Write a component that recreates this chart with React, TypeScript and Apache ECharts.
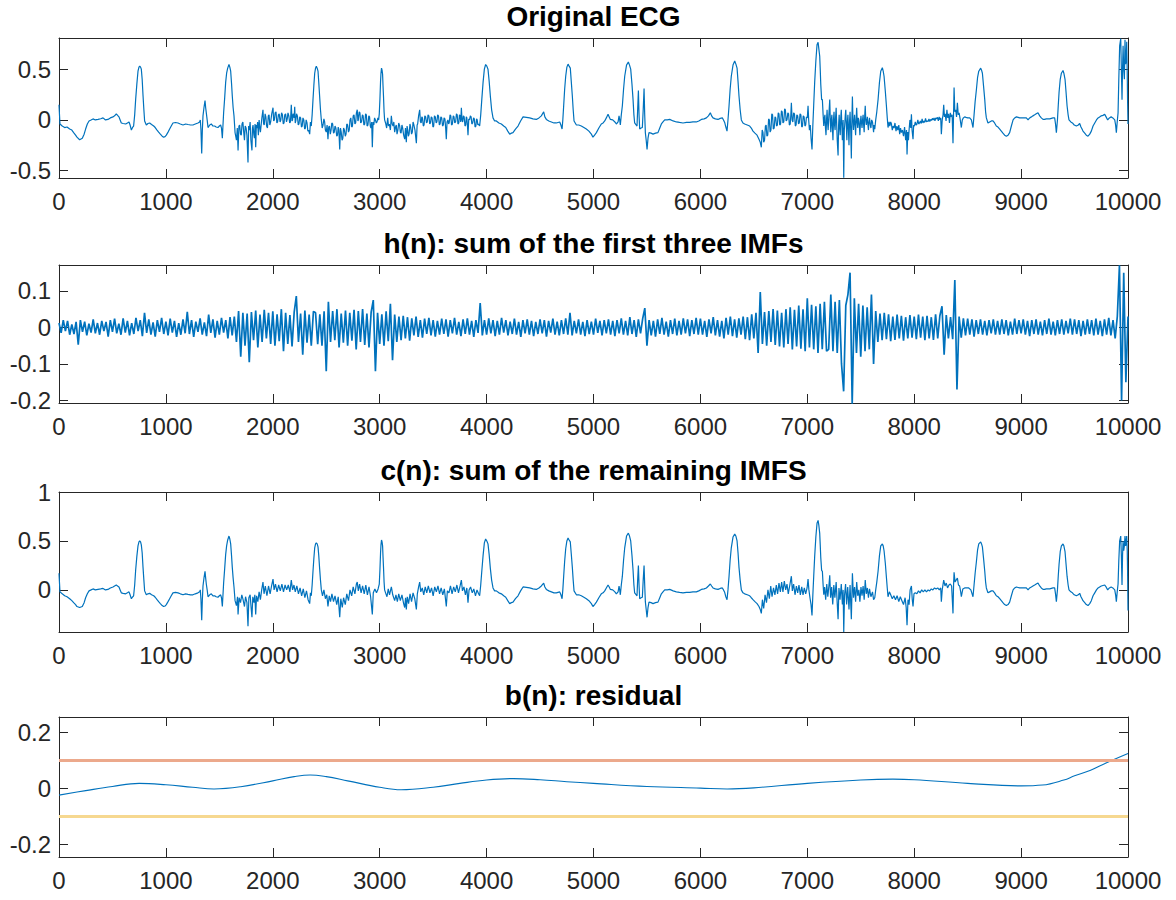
import React, { useEffect, useRef } from "react";
import * as echarts from "echarts";

// ---------- data ----------
const TITLES = [
  "Original ECG",
  "h(n): sum of the first three IMFs",
  "c(n): sum of the remaining IMFS",
  "b(n): residual",
];

const X_MIN = 0;
const X_MAX = 10000;
const X_INTERVAL = 1000;

const Y_TICKS_ECG = [-0.5, 0, 0.5];
const Y_TICKS_H = [-0.2, -0.1, 0, 0.1];
const Y_TICKS_C = [0, 0.5, 1];
const Y_TICKS_B = [-0.2, 0, 0.2];

const Y_RANGE_ECG = [-0.572, 0.807];
const Y_RANGE_H = [-0.207, 0.171];
const Y_RANGE_C = [-0.43, 1];
const Y_RANGE_B = [-0.245, 0.255];

const THRESHOLD_UPPER = 0.1;
const THRESHOLD_LOWER = -0.1;

const ecgPoints: [number, number][] = [
  [0,0.15],[9,-0.04],[30,-0.06],[53,-0.075],[75,-0.07],[100,-0.09],[120,-0.1],[137,-0.125],[155,-0.15],[168,-0.17],[193,-0.195],[218,-0.18],[235,-0.14],[249,-0.09],[265,-0.04],[281,-0.01],[300,0.0],[318,0.01],[340,0.0],[365,0.005],[390,0.012],[412,0.02],[435,0.0],[458,0.005],[480,0.02],[505,0.03],[520,0.04],[536,0.06],[548,0.045],[561,0.03],[572,0.0],[583,-0.03],[600,-0.035],[624,-0.04],[640,-0.03],[655,-0.02],[665,-0.05],[677,-0.1],[690,-0.07],[698,-0.06],
  [708,0.05],[717,0.2],[728,0.35],[739,0.48],[748,0.52],[755,0.53],[763,0.52],[770,0.5],[778,0.4],[786,0.24],[794,0.1],[801,-0.01],[817,-0.05],[832,-0.035],[848,-0.03],[866,-0.045],[886,-0.06],[900,-0.075],[917,-0.1],[932,-0.12],[948,-0.14],[965,-0.16],[979,-0.17],[992,-0.165],[1004,-0.15],[1020,-0.12],[1035,-0.09],[1050,-0.06],[1066,-0.03],[1090,-0.025],[1113,-0.03],[1135,-0.04],[1160,-0.05],[1185,-0.04],[1207,-0.045],[1230,-0.05],[1253,-0.05],[1275,-0.04],[1300,-0.03],[1315,-0.02],
  [1322,0.0],[1328,-0.1],[1335,-0.33],[1341,-0.1],[1347,0.04],[1356,0.12],[1366,0.19],[1372,0.12],[1378,0.07],[1386,0.0],[1394,-0.075],[1410,-0.05],[1425,-0.04],[1440,-0.06],[1456,-0.06],[1470,-0.07],[1487,-0.075],[1500,-0.06],[1512,-0.05],[1520,-0.08],[1528,-0.18],[1534,-0.05],[1540,0.07],[1550,0.22],[1559,0.37],[1568,0.46],[1578,0.51],[1590,0.546],[1598,0.52],[1606,0.48],[1614,0.36],[1621,0.235],[1629,0.12],[1637,0.04],[1647,-0.125],
  [1660,-0.2],[1668,-0.08],[1675,-0.3],[1683,-0.06],[1690,-0.05],[1698,-0.14],[1705,-0.15],[1712,-0.04],[1720,-0.02],[1728,-0.12],[1735,-0.2],[1742,-0.06],[1750,-0.08],[1758,-0.15],[1768,-0.42],[1774,-0.06],[1780,-0.1],[1788,-0.02],[1795,-0.2],[1805,-0.3],[1810,-0.08],[1815,-0.05],[1822,-0.14],[1828,-0.18],[1834,-0.04],[1840,-0.27],[1846,-0.05],[1852,-0.08],[1858,-0.02],[1865,-0.15],[1872,0.0],[1877,-0.06],[1884,-0.12],[1890,-0.12],[1898,0.02],[1908,0.1],[1914,-0.04],[1920,-0.05],[1928,0.06],[1935,0.03],[1942,-0.06],[1950,-0.08],[1958,0.04],[1965,0.05],[1972,-0.05],[1980,-0.02],[1990,0.06],[2002,0.12],[2008,-0.01],[2015,0.0],[2022,0.07],[2030,0.08],[2038,-0.03],[2045,-0.02],[2052,0.05],[2060,0.06],[2068,-0.02],[2075,0.0],[2082,0.07],[2090,0.05],[2098,-0.04],[2105,-0.03],[2112,0.05],[2120,0.06],[2128,-0.02],[2135,0.01],[2142,0.07],[2150,0.04],[2158,-0.03],[2165,-0.02],[2173,0.15],[2180,-0.01],[2185,0.0],[2190,0.06],[2195,0.05],[2200,0.02],[2205,0.13],[2210,-0.03],[2215,-0.01],[2222,0.06],[2230,0.04],[2238,-0.05],[2245,-0.04],[2252,0.03],[2260,0.02],[2268,-0.07],[2275,-0.06],[2282,0.02],[2290,0.0],[2298,-0.09],[2305,-0.08],[2312,0.0],[2320,-0.03],[2328,-0.11],[2335,-0.1],[2345,-0.14],[2352,-0.02],[2360,-0.06],
  [2368,0.05],[2376,0.2],[2384,0.34],[2392,0.46],[2400,0.51],[2407,0.53],[2415,0.51],[2423,0.48],[2430,0.37],[2438,0.235],[2446,0.1],[2454,0.0],
  [2462,-0.08],[2470,-0.05],[2478,0.01],[2485,-0.02],[2492,-0.1],[2500,-0.12],[2508,-0.05],[2516,-0.19],[2523,-0.07],[2530,-0.06],[2538,-0.14],[2545,-0.1],[2552,-0.03],[2560,-0.04],[2568,-0.13],[2575,-0.12],[2582,-0.06],[2590,-0.08],[2598,-0.16],[2605,-0.15],[2612,-0.07],[2618,-0.1],[2626,-0.29],[2633,-0.08],[2640,-0.12],[2648,-0.2],[2655,-0.18],[2662,-0.08],[2670,-0.1],[2678,-0.16],[2685,-0.14],[2692,-0.04],[2700,-0.05],[2708,-0.12],[2715,-0.1],[2722,0.0],[2730,0.02],[2738,-0.07],[2745,-0.06],[2752,0.04],[2760,0.05],[2768,-0.04],[2775,-0.03],[2782,0.07],[2790,0.1],[2796,-0.01],[2800,0.0],[2808,0.08],[2815,0.07],[2822,-0.03],[2830,-0.02],[2838,0.05],[2845,0.04],[2852,-0.05],[2860,-0.04],[2868,0.06],[2875,0.05],[2882,-0.06],[2890,-0.05],[2898,0.04],[2905,0.03],[2912,-0.06],[2918,-0.08],[2925,-0.02],[2931,-0.27],[2938,-0.02],[2945,-0.05],[2952,0.02],[2960,0.0],[2968,-0.03],[2975,-0.02],[2983,0.02],[2990,0.0],
  [2996,0.06],[3002,0.2],[3008,0.38],[3012,0.46],[3017,0.51],[3022,0.49],[3027,0.45],[3031,0.34],[3036,0.22],[3041,0.08],[3046,0.0],[3055,-0.03],
  [3065,-0.08],[3075,0.02],[3082,-0.06],[3090,-0.04],[3100,-0.1],[3109,0.04],[3117,-0.04],[3125,-0.06],[3132,-0.02],[3140,-0.12],[3148,-0.07],[3155,-0.05],[3162,-0.14],[3170,-0.1],[3178,-0.03],[3187,-0.06],[3193,-0.12],[3200,-0.13],[3208,-0.05],[3215,-0.08],[3224,-0.15],[3234,-0.19],[3241,-0.08],[3249,-0.22],[3256,-0.06],[3262,-0.1],[3268,-0.16],[3275,-0.14],[3283,-0.04],[3290,-0.07],[3298,-0.14],[3305,-0.12],[3312,-0.02],[3320,-0.05],[3330,-0.1],[3343,-0.23],[3350,-0.05],[3355,-0.04],[3364,0.04],[3374,0.1],[3381,-0.02],[3388,-0.03],[3394,0.03],[3400,0.02],[3408,-0.06],[3415,-0.05],[3422,0.04],[3430,0.03],[3438,-0.03],[3445,-0.02],[3452,0.05],[3460,0.04],[3468,-0.04],[3475,-0.03],[3482,0.03],[3490,0.02],[3498,-0.07],[3505,-0.06],[3512,0.04],[3520,0.03],[3528,-0.03],[3535,-0.02],[3542,0.05],[3550,0.04],[3558,-0.05],[3565,-0.04],[3572,0.03],[3580,0.02],[3588,-0.06],[3595,-0.05],[3602,0.02],[3610,0.01],[3617,-0.08],[3623,-0.19],[3630,-0.02],[3638,0.0],[3644,-0.04],[3650,-0.03],[3658,0.05],[3665,0.04],[3672,-0.05],[3680,-0.04],[3688,0.04],[3695,0.03],[3702,-0.03],[3710,-0.02],[3718,0.06],[3725,0.05],[3732,-0.04],[3740,-0.03],[3746,0.05],[3752,0.04],[3758,-0.02],[3764,0.12],[3770,0.0],[3776,-0.02],[3783,0.04],[3790,0.03],[3798,-0.06],[3805,-0.05],[3810,0.03],[3815,0.02],[3820,-0.04],[3826,-0.15],[3833,0.01],[3840,0.0],[3848,0.04],[3855,0.03],[3862,-0.04],[3870,-0.03],[3878,0.02],[3885,0.01],[3892,-0.07],[3900,-0.06],[3906,0.01],[3912,0.0],[3918,-0.05],[3925,-0.04],[3935,-0.06],
  [3945,0.05],[3955,0.2],[3967,0.37],[3979,0.5],[3991,0.546],[4002,0.53],[4013,0.5],[4024,0.38],[4035,0.235],[4047,0.1],[4060,0.02],[4075,-0.01],[4091,-0.01],[4115,-0.03],[4138,-0.04],[4160,-0.06],[4179,-0.075],[4198,-0.11],[4216,-0.14],[4232,-0.13],[4247,-0.125],[4270,-0.09],[4294,-0.06],[4318,-0.01],[4341,0.03],[4372,0.025],[4403,0.02],[4434,0.01],[4465,0.005],[4490,0.02],[4512,0.04],[4534,0.08],[4545,0.03],[4559,0.005],[4582,-0.01],[4606,-0.02],[4630,-0.03],[4652,-0.03],[4684,-0.02],[4695,-0.05],[4706,-0.09],
  [4713,0.0],[4721,0.14],[4730,0.3],[4740,0.43],[4751,0.52],[4762,0.55],[4772,0.53],[4783,0.51],[4792,0.38],[4802,0.235],[4810,0.1],[4818,-0.01],[4840,-0.05],[4862,-0.05],[4886,-0.06],[4910,-0.075],[4933,-0.09],[4957,-0.11],[4980,-0.14],[4995,-0.17],[5010,-0.15],[5027,-0.125],[5050,-0.08],[5073,-0.04],[5090,-0.03],[5105,-0.01],[5120,0.02],[5136,0.055],[5147,0.03],[5158,0.005],[5180,0.0],[5200,-0.02],[5214,-0.04],[5230,-0.02],[5239,0.04],[5245,0.0],[5251,-0.05],
  [5260,0.05],[5270,0.14],[5281,0.3],[5292,0.43],[5309,0.54],[5326,0.57],[5337,0.54],[5348,0.5],[5360,0.35],[5370,0.2],[5378,0.05],[5385,-0.03],[5400,-0.05],[5407,-0.06],[5413,0.1],[5420,0.29],[5426,0.05],[5432,-0.09],[5445,-0.08],[5457,-0.075],[5465,0.1],[5473,0.31],[5479,0.05],[5485,-0.125],[5493,-0.2],[5501,-0.29],[5510,-0.18],[5519,-0.125],[5538,-0.13],[5557,-0.14],[5580,-0.13],[5603,-0.125],[5620,-0.08],[5635,-0.04],[5650,-0.02],[5666,0.0],[5690,0.0],[5713,0.005],[5745,-0.01],[5775,-0.02],[5805,-0.025],[5837,-0.03],[5870,-0.025],[5900,-0.025],[5930,-0.02],[5962,-0.02],[5985,-0.01],[6009,0.005],[6035,0.01],[6056,0.02],[6075,0.04],[6093,0.07],[6105,0.04],[6118,0.02],[6140,0.01],[6165,0.005],[6185,0.015],[6205,0.02],[6216,0.0],[6227,-0.025],[6238,-0.07],[6249,-0.11],
  [6258,0.0],[6268,0.14],[6278,0.3],[6289,0.43],[6305,0.54],[6321,0.58],[6332,0.55],[6343,0.51],[6352,0.38],[6361,0.235],[6372,0.1],[6383,0.0],[6398,-0.03],[6414,-0.04],[6438,-0.05],[6461,-0.06],[6476,-0.08],[6492,-0.11],[6510,-0.13],[6530,-0.15],[6548,-0.19],[6560,-0.22],[6570,-0.27],
  [6578,-0.1],[6585,-0.12],[6592,-0.22],[6600,-0.2],[6608,-0.06],[6615,-0.05],[6622,-0.16],[6630,-0.15],[6638,0.01],[6645,0.0],[6652,-0.12],[6660,-0.1],[6668,0.06],[6675,0.05],[6682,-0.09],[6690,-0.08],[6698,0.03],[6705,0.02],[6712,-0.06],[6720,-0.05],[6728,0.07],[6735,0.06],[6742,-0.05],[6750,-0.04],[6758,0.09],[6765,0.08],[6772,-0.03],[6780,-0.02],[6788,0.11],[6795,0.1],[6802,-0.01],[6810,0.0],[6818,0.07],[6825,0.06],[6832,-0.05],[6840,-0.04],[6846,0.05],[6851,0.17],[6858,0.0],[6865,-0.02],[6872,0.07],[6880,0.06],[6888,-0.06],[6895,-0.05],[6902,0.05],[6910,0.04],[6918,-0.04],[6925,-0.03],[6932,0.06],[6940,0.05],[6948,-0.07],[6955,-0.06],[6962,0.04],[6970,0.03],[6978,-0.06],[6985,-0.05],[6992,0.03],[7000,0.02],[7007,0.14],[7013,0.0],[7020,-0.1],[7028,-0.05],[7035,-0.18],[7044,-0.29],[7052,-0.05],[7060,0.15],
  [7069,0.37],[7080,0.58],[7091,0.74],[7101,0.765],[7108,0.7],[7116,0.63],[7121,0.5],[7126,0.35],[7134,0.2],[7141,0.2],[7148,0.05],[7154,-0.06],
  [7160,0.02],[7165,0.05],[7170,-0.08],[7175,-0.15],[7180,0.0],[7185,0.1],[7190,-0.03],[7195,-0.1],[7202,0.05],[7210,0.2],[7215,0.0],[7220,-0.12],[7225,0.0],[7230,0.05],[7235,-0.08],[7240,-0.2],[7245,0.0],[7250,0.08],[7255,-0.05],[7260,-0.1],[7265,0.03],[7270,0.12],[7275,-0.05],[7280,-0.2],[7288,-0.35],[7293,-0.05],[7298,0.05],[7303,-0.08],[7308,-0.15],[7313,0.02],[7318,0.1],[7323,-0.05],[7328,-0.2],[7335,0.0],[7341,-0.57],[7346,-0.1],[7350,-0.05],[7355,0.04],[7360,0.1],[7365,-0.05],[7370,-0.2],[7375,-0.02],[7380,0.05],[7385,-0.1],[7390,-0.25],[7395,-0.02],[7400,0.08],[7406,-0.1],[7412,-0.38],[7417,0.0],[7422,0.23],[7427,0.0],[7432,-0.1],[7437,-0.02],[7442,0.05],[7447,-0.05],[7452,-0.15],[7457,0.0],[7462,0.12],[7467,-0.02],[7472,-0.08],[7477,0.02],[7482,0.0],[7487,-0.06],[7492,-0.15],[7497,-0.02],[7502,0.04],[7507,-0.03],[7512,-0.08],[7517,0.0],[7522,0.05],[7527,-0.05],[7532,-0.12],[7537,0.04],[7542,0.14],[7547,0.0],[7552,-0.05],[7557,-0.01],[7562,0.03],[7567,-0.05],[7572,-0.1],[7577,-0.02],[7582,0.02],[7588,-0.04],[7595,-0.08],[7602,0.0],[7610,-0.02],[7615,-0.07],[7620,-0.12],[7625,-0.05],[7631,-0.09],
  [7640,0.0],[7650,0.08],[7662,0.2],[7675,0.37],[7687,0.48],[7702,0.514],[7710,0.48],[7718,0.43],[7730,0.28],[7740,0.14],[7748,0.02],[7755,-0.075],[7765,-0.02],[7772,-0.06],[7780,-0.02],[7787,-0.04],[7795,-0.1],[7803,-0.06],[7812,-0.08],[7820,-0.03],[7830,-0.11],[7838,-0.06],[7847,-0.1],[7856,-0.05],[7864,-0.14],[7872,-0.08],[7880,-0.125],[7890,-0.1],[7900,-0.16],[7910,-0.07],[7920,-0.2],[7928,-0.1],[7933,-0.34],[7940,-0.12],[7946,-0.2],[7952,-0.1],[7960,0.0],[7968,-0.08],[7974,0.055],[7980,-0.1],[7989,-0.19],[7995,-0.05],[8002,-0.06],[8010,-0.02],[8018,-0.05],[8026,-0.04],[8034,0.0],[8042,-0.04],[8050,-0.03],[8058,-0.01],[8066,-0.035],[8074,0.01],[8082,-0.03],[8090,-0.01],[8098,-0.025],[8106,0.015],[8114,-0.02],[8122,-0.01],[8130,-0.015],[8138,0.01],[8146,-0.015],[8154,0.005],[8162,-0.005],[8170,0.015],[8178,0.0],[8186,0.02],[8194,-0.01],[8202,0.02],[8210,0.01],[8218,0.025],[8226,-0.01],[8234,0.03],[8242,0.0],[8248,0.02],[8254,-0.14],[8262,0.0],[8270,0.05],[8276,0.15],[8283,0.03],[8290,0.06],[8298,-0.01],[8306,0.1],[8314,0.02],[8322,0.06],[8330,-0.03],[8338,0.07],[8346,0.03],[8355,0.05],[8363,-0.23],[8368,0.05],[8373,0.32],[8380,0.08],[8388,0.1],[8396,0.03],[8404,0.17],[8412,0.05],[8420,0.07],[8428,0.02],[8435,-0.03],[8441,-0.075],[8450,0.0],[8460,0.02],[8472,0.03],[8485,0.025],[8500,0.02],[8519,0.02],[8535,0.0],[8550,-0.075],
  [8560,0.05],[8570,0.18],[8582,0.3],[8593,0.42],[8604,0.48],[8622,0.51],[8630,0.49],[8638,0.46],[8649,0.33],[8660,0.2],[8668,0.08],[8675,0.02],[8690,-0.03],[8706,-0.02],[8722,-0.01],[8737,-0.01],[8752,-0.03],[8768,-0.06],[8784,-0.07],[8800,-0.09],[8815,-0.11],[8830,-0.13],[8846,-0.15],[8862,-0.16],[8878,-0.15],[8893,-0.125],[8909,-0.06],[8925,0.0],[8940,0.02],[8956,0.03],[8972,0.025],[8987,0.02],[9003,0.02],[9018,0.02],[9034,0.02],[9049,0.02],[9065,0.0],[9080,0.02],[9096,0.03],[9111,0.04],[9127,0.05],[9142,0.06],[9158,0.07],[9174,0.04],[9189,0.02],[9205,0.005],[9220,0.005],[9236,0.01],[9252,0.01],[9268,0.01],[9283,0.015],[9299,0.02],[9314,0.02],[9322,-0.04],[9330,-0.125],
  [9340,0.0],[9348,0.15],[9355,0.27],[9366,0.4],[9377,0.46],[9392,0.487],[9400,0.46],[9411,0.4],[9420,0.28],[9430,0.14],[9440,0.05],[9448,0.0],[9465,-0.02],[9480,-0.03],[9497,-0.05],[9517,-0.06],[9535,-0.05],[9548,-0.035],[9560,-0.07],[9570,-0.09],[9579,-0.11],[9595,-0.13],[9610,-0.15],[9626,-0.16],[9642,-0.14],[9657,-0.11],[9673,-0.06],[9689,-0.03],[9705,0.0],[9720,0.02],[9735,0.03],[9750,0.04],[9766,0.045],[9782,0.055],[9795,0.03],[9810,0.0],[9826,0.02],[9842,0.03],[9858,0.02],[9876,0.0],[9884,-0.05],[9891,-0.125],[9899,-0.02],[9907,0.07],[9914,0.4],[9922,0.73],[9932,0.8],[9938,0.5],[9944,0.2],[9949,0.5],[9954,0.73],[9960,0.5],[9966,0.4],[9972,0.79],[9978,0.55],[9984,0.6],[9988,0.77],[9993,0.45],[9996,0.2],[10000,-0.04],
];

// h(n) read every 20 samples
const H_STEP = 20;
const hValues: number[] = [
  0.012,-0.015,0.02,-0.01,0.018,-0.02,0.008,-0.018,0.015,-0.047,0.02,-0.012,0.016,-0.022,0.01,-0.014,0.022,-0.016,0.012,-0.02,
  0.018,-0.01,0.015,-0.025,0.02,-0.012,0.024,-0.016,0.01,-0.02,0.025,-0.014,0.018,-0.022,0.012,-0.018,0.026,-0.01,0.02,-0.024,
  0.04,-0.015,0.022,-0.02,0.014,-0.025,0.02,-0.012,0.026,-0.018,0.016,-0.022,0.024,-0.014,0.018,-0.026,0.012,-0.02,0.022,-0.016,
  0.043,-0.018,0.02,-0.026,0.016,-0.012,0.025,-0.02,0.014,-0.024,0.035,-0.015,0.022,-0.028,0.018,-0.02,0.026,-0.014,0.02,-0.03,
  0.028,-0.022,0.03,-0.04,0.045,-0.08,0.04,-0.05,0.038,-0.095,0.042,-0.035,0.046,-0.055,0.035,-0.04,0.048,-0.03,0.04,-0.045,
  0.044,-0.05,0.036,-0.038,0.05,-0.065,0.04,-0.045,0.034,-0.052,0.042,0.086,-0.04,0.038,-0.075,0.046,-0.042,0.035,-0.05,0.044,
  0.04,-0.046,0.036,-0.05,0.044,-0.12,0.07,-0.04,0.045,-0.035,0.05,-0.055,0.038,-0.042,0.046,-0.05,0.04,-0.036,0.048,-0.06,
  0.045,-0.04,0.05,-0.048,0.038,-0.055,0.042,0.075,-0.12,0.04,-0.045,0.036,-0.05,0.044,-0.038,0.065,-0.09,0.035,-0.04,0.03,
  -0.035,0.032,-0.03,0.028,-0.036,0.025,-0.022,0.03,-0.026,0.02,-0.028,0.024,-0.018,0.026,-0.022,0.02,-0.025,0.018,-0.02,0.024,
  -0.018,0.022,-0.025,0.02,-0.016,0.026,-0.02,0.015,-0.024,0.022,-0.018,0.025,-0.02,0.018,-0.026,0.02,-0.015,0.067,-0.022,0.02,
  -0.02,0.025,-0.016,0.02,-0.024,0.018,-0.02,0.026,-0.014,0.02,-0.022,0.016,-0.018,0.024,-0.02,0.015,-0.026,0.02,-0.016,0.022,
  -0.02,0.018,-0.024,0.015,-0.018,0.022,-0.016,0.02,-0.025,0.018,-0.014,0.024,-0.02,0.016,-0.022,0.02,-0.018,0.025,-0.02,0.04,
  -0.022,0.018,-0.016,0.022,-0.02,0.015,-0.024,0.02,-0.018,0.016,-0.02,0.024,-0.015,0.018,-0.022,0.02,-0.016,0.022,-0.02,0.018,
  -0.024,0.02,-0.016,0.025,-0.02,0.018,-0.022,0.028,-0.018,0.02,-0.026,0.022,-0.016,0.024,0.053,-0.05,0.02,-0.022,0.018,-0.025,
  0.022,-0.018,0.026,-0.02,0.016,-0.025,0.02,-0.018,0.024,-0.022,0.018,-0.02,0.025,-0.016,0.022,-0.024,0.02,-0.018,0.026,-0.02,
  0.024,-0.02,0.018,-0.026,0.022,-0.016,0.028,-0.022,0.02,-0.025,0.018,-0.03,0.026,-0.02,0.03,-0.024,0.022,-0.028,0.025,-0.02,
  0.03,-0.032,0.028,-0.035,0.036,-0.03,0.04,-0.07,0.097,-0.045,0.042,-0.05,0.045,-0.04,0.05,-0.048,0.046,-0.052,0.04,-0.055,
  0.05,-0.045,0.055,-0.06,0.048,-0.052,0.06,-0.058,0.05,-0.065,0.08,-0.055,0.062,-0.06,0.058,-0.07,0.065,-0.06,0.07,-0.065,
  -0.06,0.09,-0.065,0.07,-0.07,0.075,-0.1,-0.175,0.06,0.09,0.15,-0.21,0.08,-0.07,0.065,-0.08,0.06,-0.065,0.055,-0.06,
  0.09,-0.1,0.045,-0.04,0.038,-0.035,0.04,-0.032,0.036,-0.038,0.03,-0.034,0.035,-0.03,0.032,-0.036,0.028,-0.03,0.034,-0.028,
  0.03,-0.032,0.035,-0.028,0.03,-0.035,0.032,-0.03,0.028,-0.034,0.036,-0.03,0.032,0.058,-0.075,0.034,-0.03,0.028,-0.032,0.13,
  -0.17,0.03,-0.028,0.025,-0.022,0.024,-0.02,0.022,-0.025,0.02,-0.018,0.022,-0.02,0.018,-0.022,0.02,-0.016,0.022,-0.02,0.018,
  -0.02,0.022,-0.018,0.02,-0.022,0.016,-0.02,0.024,-0.018,0.02,-0.016,0.022,-0.02,0.018,-0.024,0.02,-0.018,0.022,-0.02,0.016,
  -0.022,0.02,-0.018,0.024,-0.02,0.016,-0.022,0.02,-0.018,0.022,-0.02,0.018,-0.016,0.024,-0.02,0.022,-0.018,0.02,-0.024,0.018,
  -0.02,0.022,-0.018,0.02,-0.022,0.024,-0.02,0.018,-0.024,0.022,-0.02,0.026,-0.022,0.02,-0.03,0.03,0.17,-0.2,0.15,-0.15,
  0.03,
];

const cPoints: [number, number][] = [
  [0,0.17],[9,-0.02],[30,-0.04],[53,-0.06],[75,-0.07],[100,-0.09],[120,-0.11],[137,-0.13],[155,-0.15],[168,-0.17],[193,-0.18],[218,-0.17],[235,-0.13],[249,-0.08],[265,-0.04],[281,-0.01],[300,0.0],[318,0.01],[340,0.0],[365,0.005],[390,0.01],[412,0.015],[435,0.0],[458,0.005],[480,0.02],[505,0.03],[520,0.04],[536,0.05],[548,0.04],[561,0.03],[572,0.0],[583,-0.03],[600,-0.035],[624,-0.04],[640,-0.03],[655,-0.02],[665,-0.05],[677,-0.09],[690,-0.07],[698,-0.06],
  [708,0.05],[717,0.2],[728,0.34],[739,0.45],[748,0.49],[755,0.5],[763,0.49],[770,0.46],[778,0.38],[786,0.23],[794,0.1],[801,-0.01],[817,-0.05],[832,-0.04],[848,-0.035],[866,-0.05],[886,-0.06],[900,-0.075],[917,-0.1],[932,-0.12],[948,-0.14],[965,-0.16],[979,-0.17],[992,-0.165],[1004,-0.15],[1020,-0.12],[1035,-0.09],[1050,-0.06],[1066,-0.03],[1090,-0.025],[1113,-0.03],[1135,-0.04],[1160,-0.05],[1185,-0.04],[1207,-0.045],[1230,-0.05],[1253,-0.05],[1275,-0.04],[1300,-0.03],[1315,-0.02],
  [1322,0.0],[1328,-0.1],[1335,-0.31],[1341,-0.1],[1347,0.04],[1356,0.12],[1366,0.19],[1372,0.12],[1378,0.06],[1386,0.0],[1394,-0.07],[1410,-0.05],[1425,-0.04],[1440,-0.06],[1456,-0.06],[1470,-0.07],[1487,-0.075],[1500,-0.06],[1512,-0.05],[1520,-0.08],[1528,-0.17],[1534,-0.05],[1540,0.07],[1550,0.22],[1559,0.36],[1568,0.45],[1578,0.51],[1590,0.55],[1598,0.52],[1606,0.47],[1614,0.35],[1621,0.23],[1629,0.12],[1637,0.03],[1647,-0.11],
  [1660,-0.16],[1670,-0.07],[1675,-0.25],[1685,-0.08],[1698,-0.13],[1710,-0.05],[1722,-0.1],[1735,-0.17],[1745,-0.07],[1758,-0.13],[1768,-0.37],[1776,-0.08],[1788,-0.05],[1797,-0.18],[1805,-0.28],[1813,-0.07],[1824,-0.13],[1832,-0.05],[1840,-0.25],[1848,-0.06],[1860,-0.12],[1872,-0.02],[1884,-0.1],[1896,0.0],[1908,0.08],[1918,-0.04],[1930,0.04],[1945,-0.06],[1960,0.04],[1975,-0.04],[1990,0.05],[2002,0.11],[2012,0.0],[2025,0.06],[2040,-0.02],[2055,0.05],[2070,-0.01],[2085,0.06],[2100,-0.02],[2115,0.05],[2130,0.0],[2145,0.05],[2160,-0.02],[2173,0.1],[2185,0.0],[2198,0.05],[2210,-0.02],[2225,0.04],[2240,-0.04],[2255,0.02],[2270,-0.06],[2285,0.01],[2300,-0.08],[2315,-0.01],[2330,-0.1],[2345,-0.14],[2352,-0.03],[2360,-0.06],
  [2368,0.05],[2376,0.19],[2384,0.32],[2392,0.43],[2400,0.47],[2407,0.48],[2415,0.47],[2423,0.44],[2430,0.35],[2438,0.22],[2446,0.1],[2454,0.0],
  [2465,-0.06],[2478,0.0],[2492,-0.09],[2505,-0.05],[2516,-0.17],[2528,-0.06],[2540,-0.12],[2553,-0.04],[2568,-0.12],[2582,-0.06],[2598,-0.15],[2612,-0.07],[2626,-0.28],[2636,-0.09],[2650,-0.18],[2662,-0.08],[2678,-0.15],[2692,-0.04],[2708,-0.11],[2722,0.0],[2738,-0.06],[2752,0.03],[2768,-0.04],[2782,0.06],[2790,0.08],[2800,-0.01],[2812,0.06],[2826,-0.03],[2840,0.04],[2855,-0.04],[2870,0.05],[2885,-0.05],[2900,0.03],[2915,-0.07],[2931,-0.25],[2940,-0.03],[2955,0.01],[2970,-0.03],[2985,0.01],
  [2996,0.06],[3002,0.2],[3008,0.38],[3012,0.46],[3017,0.51],[3022,0.49],[3027,0.45],[3031,0.34],[3036,0.22],[3041,0.08],[3046,0.0],[3055,-0.03],
  [3068,-0.07],[3080,0.01],[3092,-0.05],[3109,0.03],[3122,-0.05],[3140,-0.11],[3152,-0.05],[3165,-0.12],[3178,-0.04],[3193,-0.11],[3208,-0.05],[3224,-0.14],[3234,-0.18],[3242,-0.08],[3249,-0.2],[3258,-0.07],[3270,-0.14],[3284,-0.04],[3298,-0.12],[3312,-0.03],[3328,-0.09],[3343,-0.2],[3352,-0.04],[3364,0.03],[3374,0.08],[3384,-0.02],[3398,0.02],[3412,-0.05],[3426,0.03],[3440,-0.03],[3455,0.04],[3470,-0.03],[3485,0.02],[3500,-0.06],[3515,0.03],[3530,-0.02],[3545,0.04],[3560,-0.04],[3575,0.02],[3590,-0.05],[3605,0.01],[3623,-0.17],[3633,-0.01],[3648,-0.03],[3662,0.04],[3677,-0.04],[3692,0.03],[3707,-0.02],[3722,0.05],[3737,-0.03],[3752,0.04],[3764,0.1],[3774,-0.01],[3788,0.03],[3802,-0.05],[3815,0.02],[3826,-0.13],[3836,0.0],[3850,0.03],[3866,-0.03],[3880,0.01],[3896,-0.06],[3910,0.0],[3925,-0.04],[3935,-0.06],
  [3945,0.05],[3955,0.19],[3967,0.35],[3979,0.48],[3991,0.52],[4002,0.5],[4013,0.47],[4024,0.36],[4035,0.22],[4047,0.1],[4060,0.02],[4075,-0.01],[4091,-0.01],[4115,-0.03],[4138,-0.04],[4160,-0.06],[4179,-0.075],[4198,-0.11],[4216,-0.14],[4232,-0.13],[4247,-0.125],[4270,-0.09],[4294,-0.06],[4318,-0.01],[4341,0.03],[4372,0.025],[4403,0.02],[4434,0.01],[4465,0.005],[4490,0.02],[4512,0.04],[4534,0.07],[4545,0.03],[4559,0.005],[4582,-0.01],[4606,-0.02],[4630,-0.03],[4652,-0.03],[4684,-0.02],[4695,-0.05],[4706,-0.09],
  [4713,0.0],[4721,0.14],[4730,0.29],[4740,0.42],[4751,0.5],[4762,0.53],[4772,0.51],[4783,0.49],[4792,0.37],[4802,0.23],[4810,0.1],[4818,-0.01],[4840,-0.05],[4862,-0.05],[4886,-0.06],[4910,-0.075],[4933,-0.09],[4957,-0.11],[4980,-0.14],[4995,-0.17],[5010,-0.15],[5027,-0.125],[5050,-0.08],[5073,-0.04],[5090,-0.03],[5105,-0.01],[5120,0.02],[5136,0.05],[5147,0.03],[5158,0.005],[5180,0.0],[5200,-0.02],[5214,-0.04],[5230,-0.02],[5239,0.04],[5245,0.0],[5251,-0.05],
  [5260,0.05],[5270,0.14],[5281,0.3],[5292,0.43],[5309,0.55],[5326,0.58],[5337,0.55],[5348,0.5],[5360,0.35],[5370,0.2],[5378,0.05],[5385,-0.03],[5400,-0.05],[5407,-0.06],[5413,0.1],[5420,0.25],[5426,0.05],[5432,-0.09],[5445,-0.08],[5457,-0.075],[5465,0.1],[5473,0.25],[5479,0.05],[5485,-0.12],[5493,-0.2],[5501,-0.28],[5510,-0.18],[5519,-0.125],[5538,-0.13],[5557,-0.14],[5580,-0.13],[5603,-0.125],[5620,-0.08],[5635,-0.04],[5650,-0.02],[5666,0.0],[5690,0.0],[5713,0.005],[5745,-0.01],[5775,-0.02],[5805,-0.025],[5837,-0.03],[5870,-0.025],[5900,-0.025],[5930,-0.02],[5962,-0.02],[5985,-0.01],[6009,0.005],[6035,0.01],[6056,0.02],[6075,0.04],[6093,0.06],[6105,0.04],[6118,0.02],[6140,0.01],[6165,0.005],[6185,0.015],[6205,0.02],[6216,0.0],[6227,-0.025],[6238,-0.07],[6249,-0.1],
  [6258,0.0],[6268,0.14],[6278,0.3],[6289,0.43],[6305,0.54],[6321,0.57],[6332,0.55],[6343,0.5],[6352,0.38],[6361,0.23],[6372,0.1],[6383,0.0],[6398,-0.03],[6414,-0.04],[6438,-0.05],[6461,-0.06],[6476,-0.08],[6492,-0.1],[6510,-0.12],[6530,-0.14],[6548,-0.17],[6560,-0.2],
  [6570,-0.24],[6580,-0.1],[6592,-0.19],[6605,-0.05],[6618,-0.13],[6632,0.0],[6645,-0.09],[6658,0.04],[6670,-0.07],[6684,0.02],[6697,-0.05],[6710,0.05],[6722,-0.04],[6735,0.07],[6748,-0.02],[6760,0.08],[6772,-0.02],[6785,0.09],[6798,0.0],[6810,0.06],[6822,-0.04],[6835,0.04],[6851,0.14],[6860,-0.01],[6872,0.06],[6885,-0.05],[6898,0.04],[6910,-0.03],[6922,0.05],[6935,-0.05],[6948,0.03],[6960,-0.05],[6972,0.02],[6985,-0.04],[6998,0.02],[7007,0.11],[7015,0.0],[7025,-0.08],[7035,-0.15],[7044,-0.26],[7052,-0.05],[7060,0.14],
  [7069,0.34],[7080,0.54],[7091,0.68],[7101,0.71],[7108,0.66],[7116,0.58],[7121,0.46],[7126,0.33],[7134,0.2],[7141,0.19],[7148,0.05],[7154,-0.05],
  [7162,0.03],[7172,-0.1],[7182,0.06],[7192,-0.07],[7202,0.04],[7210,0.15],[7218,-0.08],[7228,0.03],[7238,-0.15],[7248,0.05],[7258,-0.08],[7270,0.08],[7280,-0.14],[7288,-0.3],[7296,0.02],[7306,-0.1],[7318,0.06],[7328,-0.15],[7335,0.0],[7341,-0.43],[7348,-0.06],[7358,0.06],[7368,-0.15],[7378,0.03],[7390,-0.2],[7400,0.05],[7412,-0.3],[7422,0.17],[7432,-0.08],[7442,0.03],[7452,-0.12],[7462,0.08],[7472,-0.06],[7482,0.0],[7492,-0.12],[7502,0.03],[7512,-0.06],[7522,0.04],[7532,-0.1],[7542,0.1],[7552,-0.04],[7562,0.02],[7572,-0.08],[7582,0.01],[7595,-0.07],[7610,-0.02],[7620,-0.1],[7631,-0.08],
  [7640,0.0],[7650,0.08],[7662,0.19],[7675,0.35],[7687,0.45],[7702,0.47],[7710,0.45],[7718,0.4],[7730,0.27],[7740,0.13],[7748,0.02],[7755,-0.07],[7768,-0.02],[7780,-0.05],[7795,-0.09],[7810,-0.06],[7825,-0.1],[7840,-0.06],[7856,-0.12],[7870,-0.07],[7885,-0.11],[7900,-0.15],[7915,-0.08],[7925,-0.18],[7933,-0.36],[7942,-0.1],[7952,-0.15],[7962,0.0],[7974,0.04],[7982,-0.1],[7989,-0.17],[7998,-0.04],[8010,-0.03],[8025,-0.04],[8040,-0.01],[8055,-0.03],[8070,0.0],[8085,-0.02],[8100,0.0],[8115,-0.02],[8130,0.0],[8145,-0.01],[8160,0.01],[8175,0.0],[8190,0.02],[8205,0.01],[8220,0.02],[8235,0.0],[8248,0.02],[8254,-0.12],[8262,0.0],[8276,0.1],[8288,0.04],[8300,0.07],[8312,0.02],[8325,0.05],[8338,0.06],[8350,0.04],[8363,-0.24],[8368,0.04],[8373,0.18],[8382,0.08],[8392,0.1],[8404,0.12],[8414,0.05],[8425,0.04],[8435,-0.02],[8441,-0.07],[8455,0.01],[8472,0.02],[8490,0.02],[8510,0.02],[8530,0.0],[8550,-0.07],
  [8560,0.05],[8570,0.17],[8582,0.29],[8593,0.41],[8604,0.47],[8622,0.49],[8630,0.47],[8638,0.44],[8649,0.32],[8660,0.19],[8668,0.08],[8675,0.02],[8690,-0.03],[8706,-0.02],[8722,-0.01],[8737,-0.01],[8752,-0.03],[8768,-0.06],[8784,-0.07],[8800,-0.09],[8815,-0.11],[8830,-0.13],[8846,-0.15],[8862,-0.16],[8878,-0.15],[8893,-0.125],[8909,-0.06],[8925,0.0],[8940,0.02],[8956,0.03],[8972,0.025],[8987,0.02],[9003,0.02],[9018,0.02],[9034,0.02],[9049,0.02],[9065,0.0],[9080,0.02],[9096,0.03],[9111,0.04],[9127,0.05],[9142,0.06],[9158,0.07],[9174,0.04],[9189,0.02],[9205,0.005],[9220,0.005],[9236,0.01],[9252,0.01],[9268,0.01],[9283,0.015],[9299,0.02],[9314,0.02],[9322,-0.04],[9330,-0.12],
  [9340,0.0],[9348,0.15],[9355,0.26],[9366,0.39],[9377,0.45],[9392,0.47],[9400,0.45],[9411,0.39],[9420,0.27],[9430,0.14],[9440,0.05],[9448,0.0],[9465,-0.02],[9480,-0.03],[9497,-0.05],[9517,-0.06],[9535,-0.05],[9548,-0.035],[9560,-0.07],[9570,-0.09],[9579,-0.11],[9595,-0.13],[9610,-0.15],[9626,-0.16],[9642,-0.14],[9657,-0.11],[9673,-0.06],[9689,-0.03],[9705,0.0],[9720,0.02],[9735,0.03],[9750,0.04],[9766,0.045],[9782,0.05],[9795,0.03],[9810,0.0],[9826,0.02],[9842,0.03],[9858,0.02],[9876,0.0],[9884,-0.05],[9891,-0.12],[9899,-0.02],[9907,0.06],[9914,0.3],[9922,0.5],[9932,0.55],[9938,0.35],[9944,0.05],[9949,0.35],[9954,0.5],[9960,0.4],[9966,0.45],[9972,0.55],[9978,0.45],[9984,0.5],[9988,0.55],[9993,0.4],[9996,0.2],[10000,-0.21],
];

const bPoints: [number, number][] = [
  [0,-0.024],[250,-0.008],[500,0.007],[750,0.018],[1000,0.013],[1250,0.004],[1450,-0.002],[1700,0.006],[2000,0.027],[2200,0.042],[2350,0.048],[2500,0.042],[2700,0.027],[3000,0.004],[3200,-0.005],[3500,0.004],[3750,0.018],[4000,0.03],[4250,0.035],[4500,0.031],[4750,0.024],[5000,0.018],[5500,0.007],[6000,0.001],[6250,-0.002],[6500,0.002],[7000,0.018],[7500,0.03],[7800,0.033],[8000,0.031],[8500,0.018],[9000,0.009],[9200,0.012],[9400,0.03],[9500,0.045],[9650,0.065],[9800,0.092],[10000,0.125],
];

// ---------- styling ----------
const FONT = '"Liberation Sans", Arial, Helvetica, sans-serif';
const AXIS_COLOR = "#262626";
const BLUE = "#0072BD";
const RED_LINE = "#ECA98C";
const YELLOW_LINE = "#F6D890";

const GRID_LEFT = 59;
const GRID_RIGHT = 48;
const PANEL_TOPS = [38, 265, 492, 717];
const PANEL_HEIGHTS = [140, 138, 140, 140];
const LINE_WIDTHS = [1.2, 1.7, 1.2, 1.1];

function buildOption() {
  const hPoints: [number, number][] = hValues.map((v, i) => [i * H_STEP, v]);
  const panels = [
    { ticks: Y_TICKS_ECG, range: Y_RANGE_ECG, data: ecgPoints },
    { ticks: Y_TICKS_H, range: Y_RANGE_H, data: hPoints },
    { ticks: Y_TICKS_C, range: Y_RANGE_C, data: cPoints },
    { ticks: Y_TICKS_B, range: Y_RANGE_B, data: bPoints },
  ];

  const axisLine = { show: true, onZero: false, lineStyle: { color: AXIS_COLOR, width: 1 } };
  const tickStyle = { inside: true, length: 9, lineStyle: { color: AXIS_COLOR, width: 1 } };
  const labelStyle = { color: AXIS_COLOR, fontSize: 24, fontFamily: FONT };
  const plain = (v: number) => String(v);

  const grid: any[] = [];
  const xAxis: any[] = [];
  const yAxis: any[] = [];
  const series: any[] = [];
  const graphic: any[] = [];

  panels.forEach((p, i) => {
    grid.push({ left: GRID_LEFT, right: GRID_RIGHT, top: PANEL_TOPS[i], height: PANEL_HEIGHTS[i], containLabel: false });
    xAxis.push({
      type: "value", gridIndex: i, position: "bottom", min: X_MIN, max: X_MAX, interval: X_INTERVAL,
      axisLine, axisTick: { show: true, ...tickStyle }, splitLine: { show: false },
      axisLabel: { ...labelStyle, margin: 11, formatter: plain },
    });
    xAxis.push({
      type: "value", gridIndex: i, position: "top", min: X_MIN, max: X_MAX, interval: X_INTERVAL,
      axisLine, axisTick: { show: true, ...tickStyle }, splitLine: { show: false },
      axisLabel: { show: false },
    });
    yAxis.push({
      type: "value", gridIndex: i, position: "left", min: p.range[0], max: p.range[1],
      axisLine, axisTick: { show: true, ...tickStyle, customValues: p.ticks }, splitLine: { show: false },
      axisLabel: { ...labelStyle, margin: 8, customValues: p.ticks, formatter: plain },
    });
    yAxis.push({
      type: "value", gridIndex: i, position: "right", min: p.range[0], max: p.range[1],
      axisLine, axisTick: { show: true, ...tickStyle, customValues: p.ticks }, splitLine: { show: false },
      axisLabel: { show: false },
    });
    series.push({
      type: "line", xAxisIndex: 2 * i, yAxisIndex: 2 * i, data: p.data,
      symbol: "none", showSymbol: false, smooth: i === 3 ? 0.4 : false,
      lineStyle: { color: BLUE, width: LINE_WIDTHS[i] }, itemStyle: { color: BLUE }, clip: true, z: 2,
    });
    graphic.push({
      type: "text", x: (GRID_LEFT + (1176 - GRID_RIGHT)) / 2, y: PANEL_TOPS[i] - 22,
      style: {
        text: TITLES[i], fill: "#000", fontSize: 28, fontWeight: "bold", fontFamily: FONT,
        align: "center", verticalAlign: "middle", textAlign: "center", textVerticalAlign: "middle",
      },
    });
  });

  series.push({
    type: "line", xAxisIndex: 6, yAxisIndex: 6, data: [[X_MIN, THRESHOLD_UPPER], [X_MAX, THRESHOLD_UPPER]],
    symbol: "none", lineStyle: { color: RED_LINE, width: 3 }, itemStyle: { color: RED_LINE }, z: 3,
  });
  series.push({
    type: "line", xAxisIndex: 6, yAxisIndex: 6, data: [[X_MIN, THRESHOLD_LOWER], [X_MAX, THRESHOLD_LOWER]],
    symbol: "none", lineStyle: { color: YELLOW_LINE, width: 3 }, itemStyle: { color: YELLOW_LINE }, z: 3,
  });

  return { animation: false, backgroundColor: "#fff", grid, xAxis, yAxis, series, graphic };
}

export default function App() {
  const ref = useRef<HTMLDivElement>(null);
  useEffect(() => {
    document.body.style.margin = "0";
    const chart = echarts.init(ref.current!, null, { renderer: "svg" });
    chart.setOption(buildOption() as any);
    return () => chart.dispose();
  }, []);
  return <div ref={ref} style={{ width: 1176, height: 900 }} />;
}
